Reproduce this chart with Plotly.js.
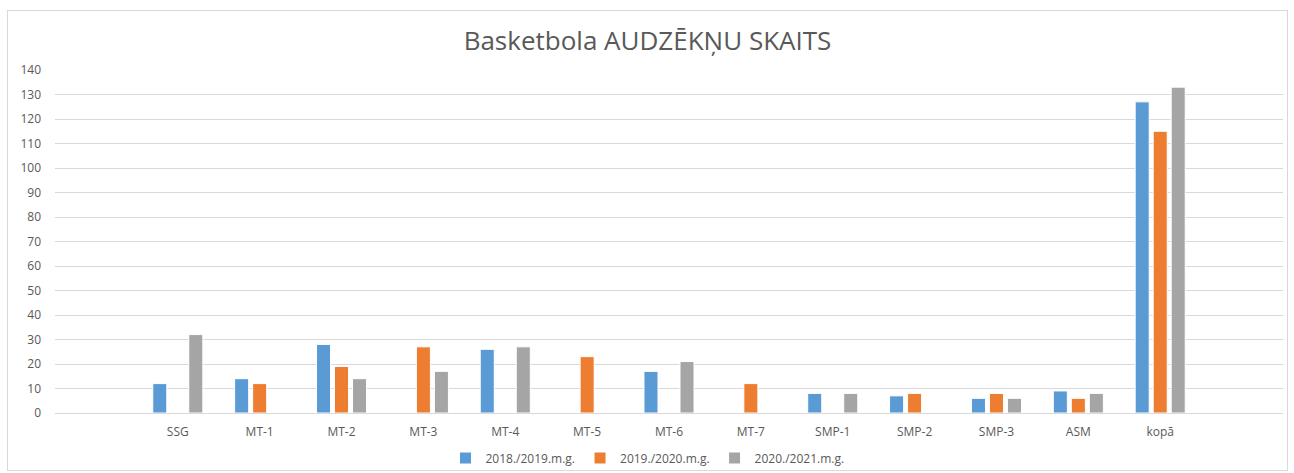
<!DOCTYPE html>
<html>
<head>
<meta charset="utf-8">
<script src="https://cdn.plot.ly/plotly-3.0.1.min.js"></script>
<style>
html,body{margin:0;padding:0;background:#fff;width:1294px;height:473px;overflow:hidden;}
#frame{position:absolute;left:7px;top:10px;width:1279px;height:459px;border:1px solid #d9d9d9;}
#chart{width:1279px;height:459px;}
</style>
</head>
<body>
<div id="frame"><div id="chart"></div></div>
<script>
const categories = ["SSG","MT-1","MT-2","MT-3","MT-4","MT-5","MT-6","MT-7","SMP-1","SMP-2","SMP-3","ASM","kopā"];
const seriesNames = ["2018./2019.m.g.","2019./2020.m.g.","2020./2021.m.g."];
const values2018 = [12, 14, 28, null, 26, null, 17, null, 8, 7, 6, 9, 127];
const values2019 = [null, 12, 19, 27, null, 23, null, 12, null, 8, 8, 6, 115];
const values2020 = [32, null, 14, 17, 27, null, 21, null, 8, null, 6, 8, 133];
const colors = ["#5B9BD5","#ED7D31","#A5A5A5"];
const yTicks = [0,10,20,30,40,50,60,70,80,90,100,110,120,130,140];

const allValues = [values2018, values2019, values2020];
const traces = allValues.map((v,i)=>({
  type:'bar', name:seriesNames[i], x:categories, y:v,
  marker:{color:colors[i], line:{color:'#ffffff', width:1}},
  hoverinfo:'x+y+name'
}));

const font = {family:'"Open Sans", "Noto Sans", sans-serif', color:'#595959'};
const layout = {
  width:1279, height:459,
  margin:{l:47, r:4, t:59, b:57},
  paper_bgcolor:'#fff', plot_bgcolor:'#fff',
  font:Object.assign({size:12}, font),
  title:{text:'Basketbola AUDZĒKŅU SKAITS', font:Object.assign({size:26}, font),
         x:0.5, xanchor:'center', y:1-30/459, yanchor:'middle', yref:'container'},
  barmode:'group', bargap:0.34, bargroupgap:0.22,
  xaxis:{type:'category', range:[-1.5, 13.5], showgrid:false, zeroline:false,
         showline:false, ticks:'', ticklabelstandoff:10, tickfont:Object.assign({size:12}, font)},
  yaxis:{range:[0,140], tickvals:yTicks, ticktext:yTicks.map(String),
         showgrid:true, gridcolor:'#d9d9d9', gridwidth:1, zeroline:true, zerolinecolor:'#d9d9d9',
         showline:false, ticks:'', ticklabelstandoff:13, tickfont:Object.assign({size:12}, font)},
  showlegend:true,
  legend:{orientation:'h', x:0.5, xanchor:'center', xref:'container',
          y:(459-447)/459, yanchor:'middle', yref:'container',
          font:Object.assign({size:12}, font), itemwidth:30, traceorder:'normal'}
};
Plotly.newPlot('chart', traces, layout, {displayModeBar:false, staticPlot:true});
</script>
</body>
</html>
